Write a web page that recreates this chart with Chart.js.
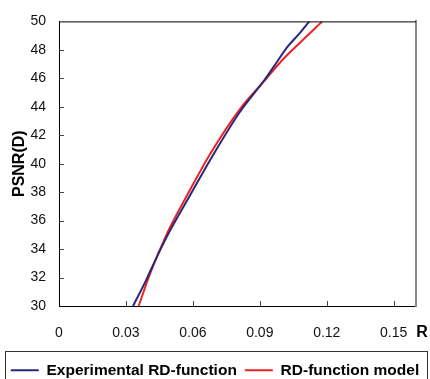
<!DOCTYPE html>
<html lang="en">
<head>
<meta charset="UTF-8">
<title>PSNR(D) vs R</title>
<script src="https://cdn.jsdelivr.net/npm/chart.js"></script>
<style>
    body { margin: 0; background: #fff; }
    #wrap { width: 430px; height: 379px; }
</style>
</head>
<body>
<div id="wrap"><canvas id="rdChart" width="430" height="379"></canvas></div>
<script>
// tick labels
const xTicks = [0, 0.03, 0.06, 0.09, 0.12, 0.15];
const yTicks = [30, 32, 34, 36, 38, 40, 42, 44, 46, 48, 50];

// experimental RD-function
const expR    = [0.0332, 0.0390, 0.0425, 0.0494, 0.0588, 0.0692, 0.0809, 0.0924, 0.0976, 0.1021, 0.1073, 0.1122];
const expPsnr = [30.0,   31.8,   33.0,   35.19,  37.80,  40.65,  43.6,   45.95,  47.13,  48.16,  49.07,  50.0];

// RD-function model
const modelR    = [0.0357, 0.0407, 0.0487, 0.0579, 0.0676, 0.0811, 0.0924, 0.0999, 0.1073, 0.1180];
const modelPsnr = [30.0,   32.23,  35.19,  37.92,  40.65,  43.84,  45.88,  47.25,  48.4,   50.0];

const font = "'Liberation Sans', Arial, sans-serif";

function toPoints(xs, ys) {
    return xs.map((x, i) => ({ x: x, y: ys[i] }));
}

// frame top line, inward tick marks, "R" label, box round the legend
const extras = {
    id: 'extras',
    afterDraw(chart) {
        const ctx = chart.ctx;
        const a = chart.chartArea;
        const xs = chart.scales.x, ys = chart.scales.y;
        ctx.save();
        ctx.strokeStyle = '#000';
        ctx.lineWidth = 1;
        ctx.beginPath();
        ctx.moveTo(a.left, a.top + 0.5);
        ctx.lineTo(a.right, a.top + 0.5);
        ctx.stroke();

        ctx.strokeStyle = '#444';
        ctx.beginPath();
        xTicks.forEach(v => {
            if (v === xs.min) return;
            const px = Math.round(xs.getPixelForValue(v)) + 0.5;
            ctx.moveTo(px, a.bottom);
            ctx.lineTo(px, a.bottom - 5);
        });
        yTicks.forEach(v => {
            if (v === ys.min || v === ys.max) return;
            const py = Math.round(ys.getPixelForValue(v)) + 0.5;
            ctx.moveTo(a.left, py);
            ctx.lineTo(a.left + 5, py);
        });
        ctx.stroke();

        ctx.fillStyle = '#000';
        ctx.font = 'bold 16px ' + font;
        ctx.textAlign = 'center';
        ctx.textBaseline = 'middle';
        ctx.fillText('R', 422, 333);

        const lg = chart.legend;
        ctx.strokeStyle = '#333';
        ctx.strokeRect(5.5, Math.round(lg.top - 4) + 0.5, 422, 60);
        ctx.restore();
    }
};

new Chart(document.getElementById('rdChart'), {
    type: 'scatter',
    data: {
        datasets: [
            {
                label: 'Experimental RD-function',
                data: toPoints(expR, expPsnr),
                showLine: true,
                borderColor: '#28287a',
                backgroundColor: '#28287a',
                borderWidth: 2,
                pointRadius: 0,
                cubicInterpolationMode: 'monotone'
            },
            {
                label: 'RD-function model',
                data: toPoints(modelR, modelPsnr),
                showLine: true,
                borderColor: '#ee2226',
                backgroundColor: '#ee2226',
                borderWidth: 2,
                pointRadius: 0,
                cubicInterpolationMode: 'monotone'
            }
        ]
    },
    options: {
        responsive: false,
        animation: false,
        layout: { padding: { left: 0, right: 0, top: 13, bottom: -9 } },
        plugins: {
            tooltip: { enabled: false },
            legend: {
                position: 'bottom',
                labels: {
                    usePointStyle: true,
                    pointStyle: 'line',
                    pointStyleWidth: 28,
                    padding: 8,
                    color: '#000',
                    font: { family: font, size: 15.5, weight: 'bold' }
                }
            }
        },
        scales: {
            x: {
                type: 'linear',
                min: 0,
                max: 0.16,
                afterBuildTicks: s => { s.ticks = xTicks.map(v => ({ value: v })); },
                afterFit: s => { s.height = 48.5; },
                grid: { drawOnChartArea: false, drawTicks: false },
                border: { color: '#000', width: 1 },
                ticks: {
                    padding: 19,
                    color: '#111',
                    font: { family: font, size: 14 },
                    callback: v => String(v)
                }
            },
            y: {
                type: 'linear',
                min: 30,
                max: 50,
                afterBuildTicks: s => { s.ticks = yTicks.map(v => ({ value: v })); },
                afterFit: s => { s.width = 59; },
                grid: { drawOnChartArea: false, drawTicks: false },
                border: { color: '#000', width: 1 },
                ticks: {
                    padding: 13,
                    color: '#111',
                    font: { family: font, size: 14 }
                },
                title: {
                    display: true,
                    text: 'PSNR(D)',
                    color: '#000',
                    padding: { top: 10, bottom: 0 },
                    font: { family: font, size: 16, weight: 'bold' }
                }
            },
            y2: {
                type: 'linear',
                position: 'right',
                min: 30,
                max: 50,
                afterFit: s => { s.width = 14; },
                grid: { drawOnChartArea: false, drawTicks: false },
                border: { color: '#888', width: 2 },
                ticks: { display: false }
            }
        }
    },
    plugins: [extras]
});
</script>
</body>
</html>
